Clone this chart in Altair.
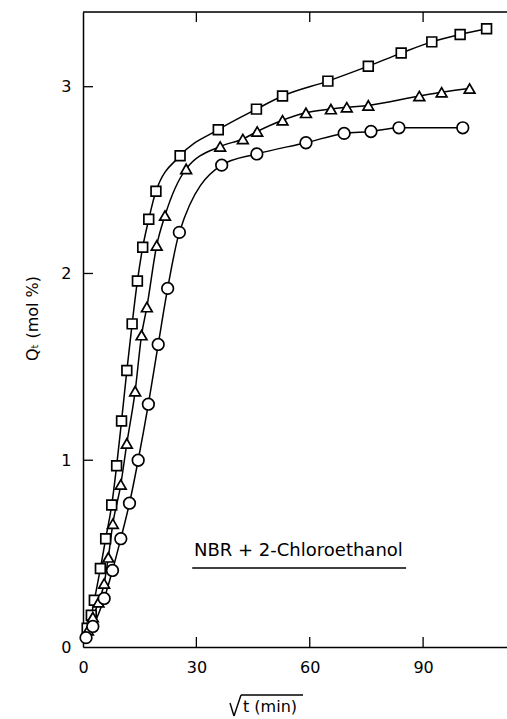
import altair as alt
import pandas as pd

# Sorption curves, Q_t versus sqrt(t): three runs drawn with squares, triangles and circles
sq_x = [1.1, 2.2, 3.0, 4.6, 6.0, 7.6, 8.9, 10.2, 11.6, 13.0, 14.4, 15.8, 17.4, 19.3,
        25.7, 35.8, 45.9, 52.8, 64.8, 75.5, 84.2, 92.3, 99.8, 106.8]
sq_y = [0.10, 0.17, 0.25, 0.42, 0.58, 0.76, 0.97, 1.21, 1.48, 1.73, 1.96, 2.14, 2.29, 2.44,
        2.63, 2.77, 2.88, 2.95, 3.03, 3.11, 3.18, 3.24, 3.28, 3.31]

tri_x = [1.3, 2.6, 4.1, 5.6, 6.7, 7.9, 10.0, 11.6, 13.8, 15.5, 16.9, 19.5, 21.7,
         27.3, 36.3, 42.3, 46.1, 52.8, 59.0, 65.6, 69.8, 75.5, 89.0, 94.9, 102.3]
tri_y = [0.09, 0.16, 0.24, 0.34, 0.48, 0.66, 0.87, 1.09, 1.37, 1.67, 1.82, 2.15, 2.31,
         2.56, 2.68, 2.72, 2.76, 2.82, 2.86, 2.88, 2.89, 2.90, 2.95, 2.97, 2.99]

cir_x = [0.8, 2.6, 5.6, 7.8, 10.0, 12.3, 14.6, 17.3, 19.9, 22.4, 25.5,
         36.7, 46.0, 59.0, 69.1, 76.2, 83.6, 100.5]
cir_y = [0.05, 0.11, 0.26, 0.41, 0.58, 0.77, 1.00, 1.30, 1.62, 1.92, 2.22,
         2.58, 2.64, 2.70, 2.75, 2.76, 2.78, 2.78]

x_ticks = [0, 30, 60, 90]
y_ticks = [0, 1, 2, 3]
annotation = "NBR + 2-Chloroethanol"
x_title = "t (min)"
y_title = "Q\u209c (mol %)"

W, H = 424, 635
FONT = "DejaVu Sans"

frames = []
for name, xs, ys in [("square", sq_x, sq_y), ("triangle-up", tri_x, tri_y), ("circle", cir_x, cir_y)]:
    frames.append(pd.DataFrame({"x": xs, "y": ys, "series": name}))
df = pd.concat(frames, ignore_index=True)

xscale = alt.Scale(domain=[0, 112.2], nice=False, zero=False)
yscale = alt.Scale(domain=[0, 3.4], nice=False, zero=False)

xaxis = alt.Axis(values=x_ticks, ticks=False, grid=False, title=None,
                 labelFontSize=16, labelPadding=12, labelFont=FONT,
                 labelColor="black", domainColor="black", domainWidth=1.5,
                 labelFlush=False)
yaxis = alt.Axis(values=y_ticks, ticks=False, grid=False, title=y_title,
                 labelFontSize=16, labelPadding=12, labelFont=FONT,
                 labelColor="black", domainColor="black", domainWidth=1.5,
                 titleFont=FONT, titleFontSize=16, titleFontWeight="normal",
                 titleColor="black", titlePadding=20, titleY=306,
                 labelFlush=False)


def X(field):
    return alt.X(field, scale=xscale, axis=xaxis)


def Y(field):
    return alt.Y(field, scale=yscale, axis=yaxis)


lines = alt.Chart(df).mark_line(interpolate="monotone", color="black", strokeWidth=1.5).encode(
    x=X("x:Q"), y=Y("y:Q"), detail="series:N")

kinds = ["square", "triangle-up", "circle"]
points = alt.Chart(df).mark_point(filled=True, fill="white", stroke="black",
                                  strokeWidth=1.7, opacity=1).encode(
    x=X("x:Q"), y=Y("y:Q"),
    shape=alt.Shape("series:N", scale=alt.Scale(domain=kinds, range=kinds), legend=None),
    size=alt.Size("series:N", scale=alt.Scale(domain=kinds, range=[95, 135, 125]), legend=None),
)

# inward ticks on the bottom, top and left edges
xt = pd.DataFrame({"x": x_ticks[1:]})
yt = pd.DataFrame({"y": y_ticks[1:]})
ticks_bottom = alt.Chart(xt).mark_rule(color="black", strokeWidth=1.3).encode(
    x=X("x:Q"), y=alt.value(H), y2=alt.value(H - 10))
ticks_top = alt.Chart(xt).mark_rule(color="black", strokeWidth=1.3).encode(
    x=X("x:Q"), y=alt.value(0), y2=alt.value(10))
ticks_left = alt.Chart(yt).mark_rule(color="black", strokeWidth=1.3).encode(
    y=Y("y:Q"), x=alt.value(0), x2=alt.value(10))

one = pd.DataFrame({"t": [0]})
top_border = alt.Chart(one).mark_rule(color="black", strokeWidth=1.5).encode(
    x=alt.value(0), x2=alt.value(W), y=alt.value(0))

# annotation with underline
note = alt.Chart(pd.DataFrame({"x": [57.0], "y": [0.514], "t": [annotation]})).mark_text(
    font=FONT, fontSize=18, color="black", align="center", baseline="middle").encode(
    x=X("x:Q"), y=Y("y:Q"), text="t:N")
underline = alt.Chart(pd.DataFrame({"x": [28.9], "x2": [85.5], "y": [0.423]})).mark_rule(
    color="black", strokeWidth=1.5).encode(x=X("x:Q"), x2="x2:Q", y=Y("y:Q"))

# x-axis title: a drawn radical sign with its bar over "t (min)"
xtitle = alt.Chart(pd.DataFrame({"t": [x_title]})).mark_text(
    font=FONT, fontSize=16, color="black", align="left", baseline="middle").encode(
    x=alt.value(160), y=alt.value(695), text="t:N")
radical = pd.DataFrame({"a": [147, 151, 158], "b": [151, 158, 220],
                        "c": [691, 704, 683], "d": [704, 683, 683]})
radical_sign = alt.Chart(radical).mark_rule(color="black", strokeWidth=1.4).encode(
    x=alt.X("a:Q", scale=None), x2="b:Q", y=alt.Y("c:Q", scale=None), y2="d:Q")

chart = alt.layer(
    top_border, ticks_bottom, ticks_top, ticks_left, lines, points, note, underline,
    xtitle, radical_sign
).properties(
    width=W, height=H,
    autosize=alt.AutoSizeParams(type="none"),
    padding={"left": 83, "top": 12, "right": 0, "bottom": 72},
).configure_view(stroke=None).configure(background="white")

chart.save("out.html", embed_options={"renderer": "svg", "actions": False})
